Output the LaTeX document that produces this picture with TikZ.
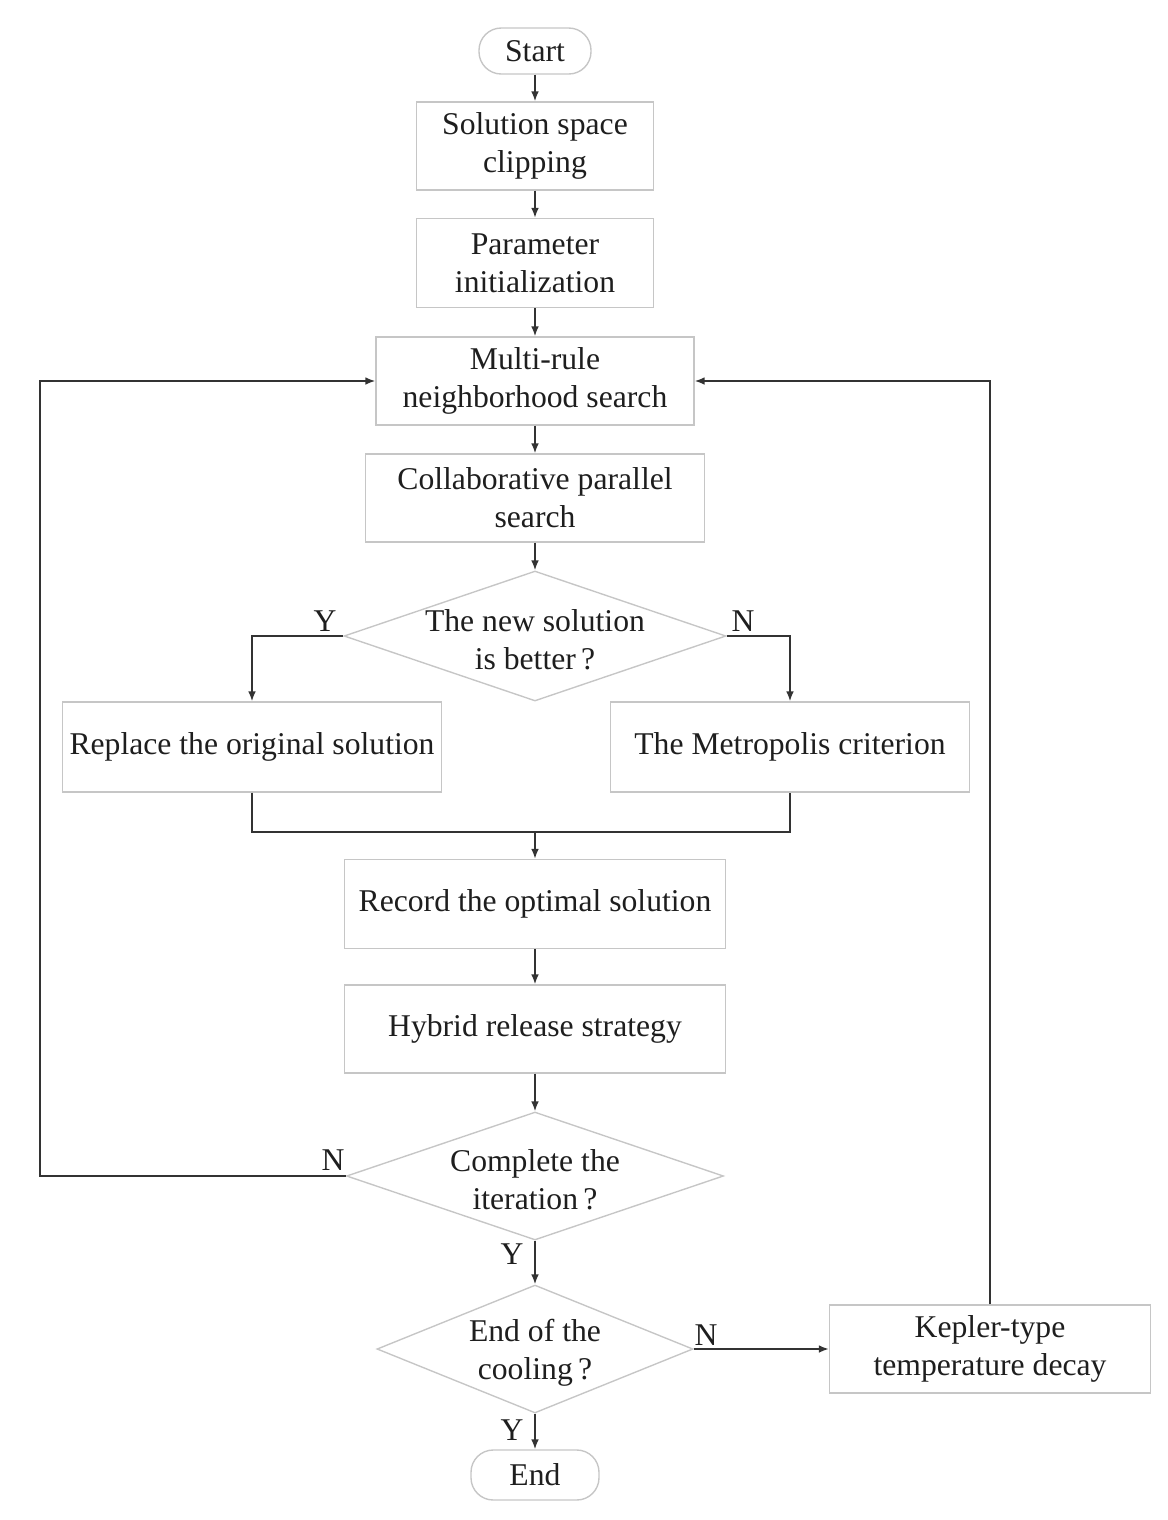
\documentclass[tikz,border=0pt]{standalone}
\usepackage{fontspec}
\setmainfont{Liberation Serif}
\usetikzlibrary{shapes.geometric,arrows.meta}
\definecolor{boxgray}{HTML}{C6C6C6}
\definecolor{linegray}{HTML}{333333}
\definecolor{txtgray}{HTML}{1E1E1E}
% один пиксель исходной картинки
\def\px{0.36pt}
\begin{document}
\begin{tikzpicture}[x=\px, y=-\px, font=\fontsize{11.4}{13.7}\selectfont, text=txtgray,
  box/.style 2 args={draw=boxgray, line width=0.5pt, minimum width=#1*\px, minimum height=#2*\px, align=center, inner sep=1pt},
  term/.style 2 args={box={#1}{#2}, rounded corners=8pt},
  decision/.style 2 args={diamond, draw=boxgray, line width=0.5pt, minimum width=#1*\px, minimum height=#2*\px, inner sep=0pt},
  dtext/.style={align=center, yshift=-4*\px},
  conn/.style={draw=linegray, line width=0.6pt},
  flow/.style={conn, -{Latex[length=3.6pt,width=2.8pt]}},
  yn/.style={inner sep=0pt}]

\useasboundingbox (0,0) rectangle (1168,1520);

% блоки
\node[term={112}{46}] (start) at (535,51) {Start};
\node[term={128}{50}] (end) at (535,1475) {End};

\foreach \n/\x/\y/\w/\h/\t in {
  clip/535/146/237/88/{Solution space\\clipping},
  init/535/263/237/89/{Parameter\\initialization},
  search/535/381/318/88/{Multi-rule\\neighborhood search},
  parallel/535/498/339/88/{Collaborative parallel\\search},
  replace/252/747/379/90/{Replace the original solution},
  metro/790/747/359/90/{The Metropolis criterion},
  record/535/904/381/89/{Record the optimal solution},
  hybrid/535/1029/381/88/{Hybrid release strategy},
  kepler/990/1349/321/88/{Kepler-type\\temperature decay}}
  \node[box={\w}{\h}] (\n) at (\x,\y) {\t};

% ромбы
\node[decision={382}{130}] (better) at (535,636) {};
\node[dtext] (betterT) at (better) {The new solution\\is better\,?};
\node[decision={377}{128}] (complete) at (535,1176) {};
\node[dtext] (completeT) at (complete) {Complete the\\iteration\,?};
\node[decision={316}{128}] (cooling) at (535,1349) {};
\node[dtext] (coolingT) at (cooling) {End of the\\cooling\,?};

% стрелки вниз
\foreach \a/\b in {start/clip, clip/init, init/search, search/parallel,
  parallel/better, record/hybrid, hybrid/complete, complete/cooling, cooling/end}
  \draw[flow] (\a.south) -- (\b.north);

\draw[flow] (better.west) -| (replace.north);
\draw[flow] (better.east) -| (metro.north);

\coordinate (join) at (535,832);
\draw[conn] (replace.south) |- (join) -| (metro.south);
\draw[flow] (join) -- (record.north);

% обратные связи
\coordinate (leftrail) at (40,381);
\draw[flow] (complete.west) -| (leftrail) -- (search.west);
\draw[flow] (cooling.east) -- (kepler.west);
\draw[flow] (kepler.north) |- (search.east);

\node[yn] (y1) at (325,621) {Y};
\node[yn] (n1) at (743,621) {N};
\node[yn] (n2) at (333,1160) {N};
\node[yn] (y2) at (512,1254) {Y};
\node[yn] (n3) at (706,1335) {N};
\node[yn] (y3) at (512,1430) {Y};

\end{tikzpicture}
\end{document}
